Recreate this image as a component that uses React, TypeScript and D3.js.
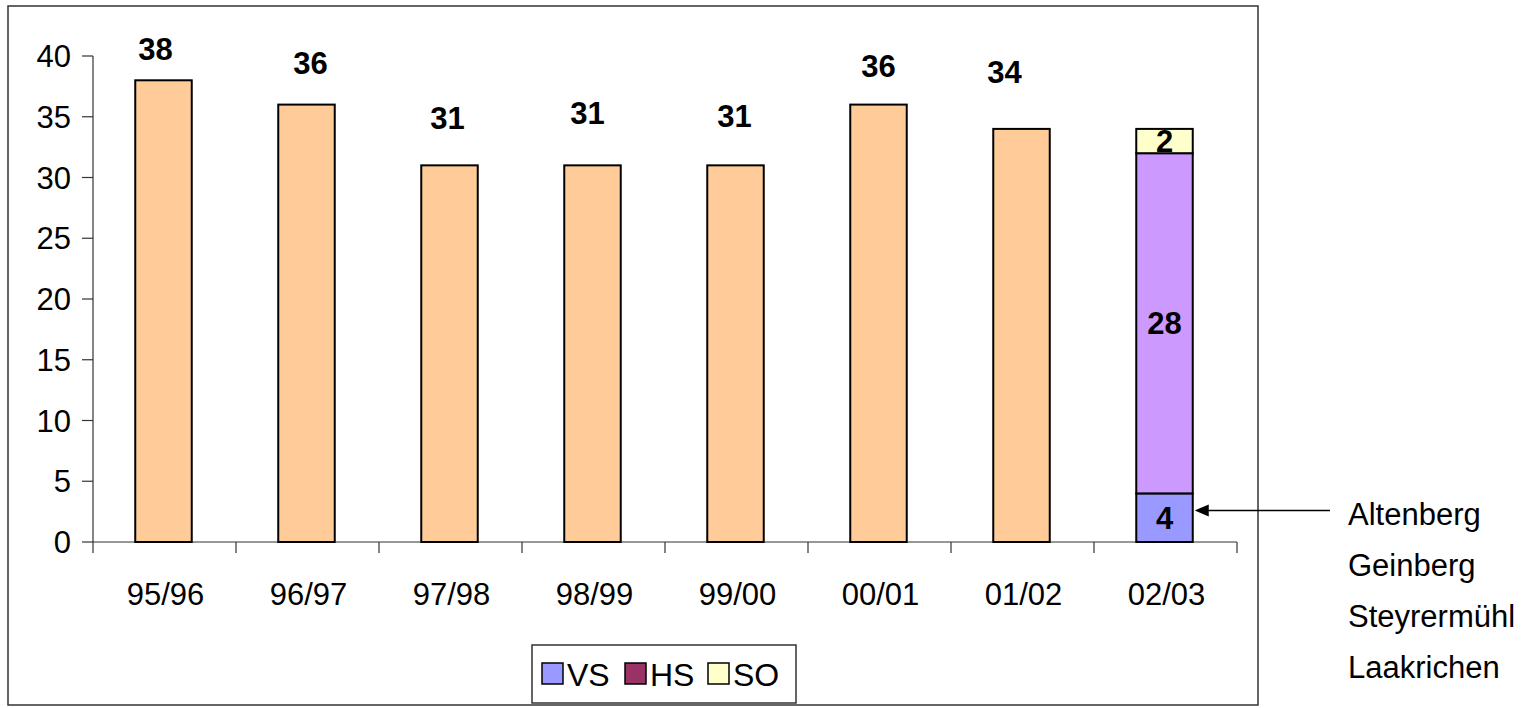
import * as d3 from 'd3';

// chart data
const seasons = ["95/96", "96/97", "97/98", "98/99", "99/00", "00/01", "01/02", "02/03"];
const totalValues = [38, 36, 31, 31, 31, 36, 34, 0];
const vsValues = [0, 0, 0, 0, 0, 0, 0, 4];
const hsValues = [0, 0, 0, 0, 0, 0, 0, 28];
const soValues = [0, 0, 0, 0, 0, 0, 0, 2];
const yTicks = [0, 5, 10, 15, 20, 25, 30, 35, 40];
const legendItems = ["VS", "HS", "SO"];
const schools = ["Altenberg", "Geinberg", "Steyrermühl", "Laakrichen"];
const arrowValue = 2.6;

// hand placed label nudges (dx, lift above bar top), like the original sheet
const labelNudge: [number, number][] = [
    [-8, 20], [4, 31], [-2, 36], [-5, 41], [-1, 38], [0, 28], [-17, 46], [0, 0],
];

const W = 1533;
const H = 708;
const font = "'Liberation Sans', Arial, sans-serif";

const colors: Record<string, string> = {
    total: '#FFCC99',
    VS: '#9999FF',
    HS: '#CC99FF',
    SO: '#FFFFCC',
};
const legendColors: Record<string, string> = {
    VS: '#9999FF',
    HS: '#993366',
    SO: '#FFFFCC',
};

export default function App() {
    const x = d3.scaleBand<string>().domain(seasons).range([93, 1237]);
    const y = d3.scaleLinear().domain([0, 40]).range([542, 56]);
    const barW = x.bandwidth() * 0.395;
    const barX = (s: string) => (x(s) as number) + x.bandwidth() / 2 - barW / 2 - 1;

    const rows = seasons.map((s, i) => ({
        season: s, VS: vsValues[i], HS: hsValues[i], SO: soValues[i],
    }));
    const stack = d3.stack<any>().keys(["VS", "HS", "SO"])(rows);

    const lastSeason = seasons[seasons.length - 1];
    const lastRight = barX(lastSeason) + barW;

    return (
        <svg width={W} height={H} style={{ position: 'absolute', left: 0, top: 0, display: 'block', background: '#fff' }}
             fontFamily={font}>
            {/* chart frame */}
            <rect x={8} y={6} width={1250} height={699} fill="none" stroke="#333" strokeWidth={1.5} />

            {/* y axis */}
            <line x1={93} x2={93} y1={y(40)} y2={y(0)} stroke="#333" strokeWidth={1.2} />
            {yTicks.map(t => (
                <g key={t}>
                    <line x1={82} x2={93} y1={y(t)} y2={y(t)} stroke="#333" strokeWidth={1.2} />
                    <text x={71} y={y(t)} dy="0.36em" textAnchor="end" fontSize={31}>{t}</text>
                </g>
            ))}

            {/* x axis */}
            <line x1={93} x2={1237} y1={y(0)} y2={y(0)} stroke="#333" strokeWidth={1.2} />
            {[...seasons.map(s => x(s) as number), 1237].map((px, i) => (
                <line key={i} x1={px} x2={px} y1={y(0)} y2={y(0) + 11} stroke="#333" strokeWidth={1.2} />
            ))}
            {seasons.map(s => (
                <text key={s} x={(x(s) as number) + x.bandwidth() / 2 + 1} y={605} textAnchor="middle" fontSize={31}>{s}</text>
            ))}

            {/* single bars */}
            {seasons.map((s, i) => totalValues[i] > 0 && (
                <g key={s}>
                    <rect x={barX(s)} y={y(totalValues[i])} width={barW} height={y(0) - y(totalValues[i])}
                          fill={colors.total} stroke="#000" strokeWidth={2} />
                    <text x={barX(s) + barW / 2 + labelNudge[i][0]} y={y(totalValues[i]) - labelNudge[i][1]}
                          textAnchor="middle" fontSize={31} fontWeight="bold">{totalValues[i]}</text>
                </g>
            ))}

            {/* stacked bar */}
            {stack.map(layer => layer.map((d, i) => {
                const v = d[1] - d[0];
                if (v <= 0) return null;
                const s = seasons[i];
                return (
                    <g key={layer.key + s}>
                        <rect x={barX(s)} y={y(d[1])} width={barW} height={y(d[0]) - y(d[1])}
                              fill={colors[layer.key]} stroke="#000" strokeWidth={2} />
                        <text x={barX(s) + barW / 2} y={(y(d[0]) + y(d[1])) / 2} dy="0.36em"
                              textAnchor="middle" fontSize={31} fontWeight="bold">{v}</text>
                    </g>
                );
            }))}

            {/* arrow */}
            <line x1={1330} x2={lastRight + 14} y1={y(arrowValue)} y2={y(arrowValue)} stroke="#000" strokeWidth={1.5} />
            <path d={`M${lastRight + 2},${y(arrowValue)} l14,-6 l0,12 z`} fill="#000" />

            {/* school names */}
            {schools.map((n, i) => (
                <text key={n} x={1348} y={525 + i * 51} fontSize={31}>{n}</text>
            ))}

            {/* legend */}
            <rect x={532} y={645} width={264} height={58} fill="#fff" stroke="#333" strokeWidth={1.5} />
            {legendItems.map((k, i) => {
                const lx = 542 + i * 83;
                return (
                    <g key={k}>
                        <rect x={lx} y={663} width={21} height={21} fill={legendColors[k]} stroke="#000" strokeWidth={1.5} />
                        <text x={lx + 25} y={686} fontSize={32}>{k}</text>
                    </g>
                );
            })}
        </svg>
    );
}
